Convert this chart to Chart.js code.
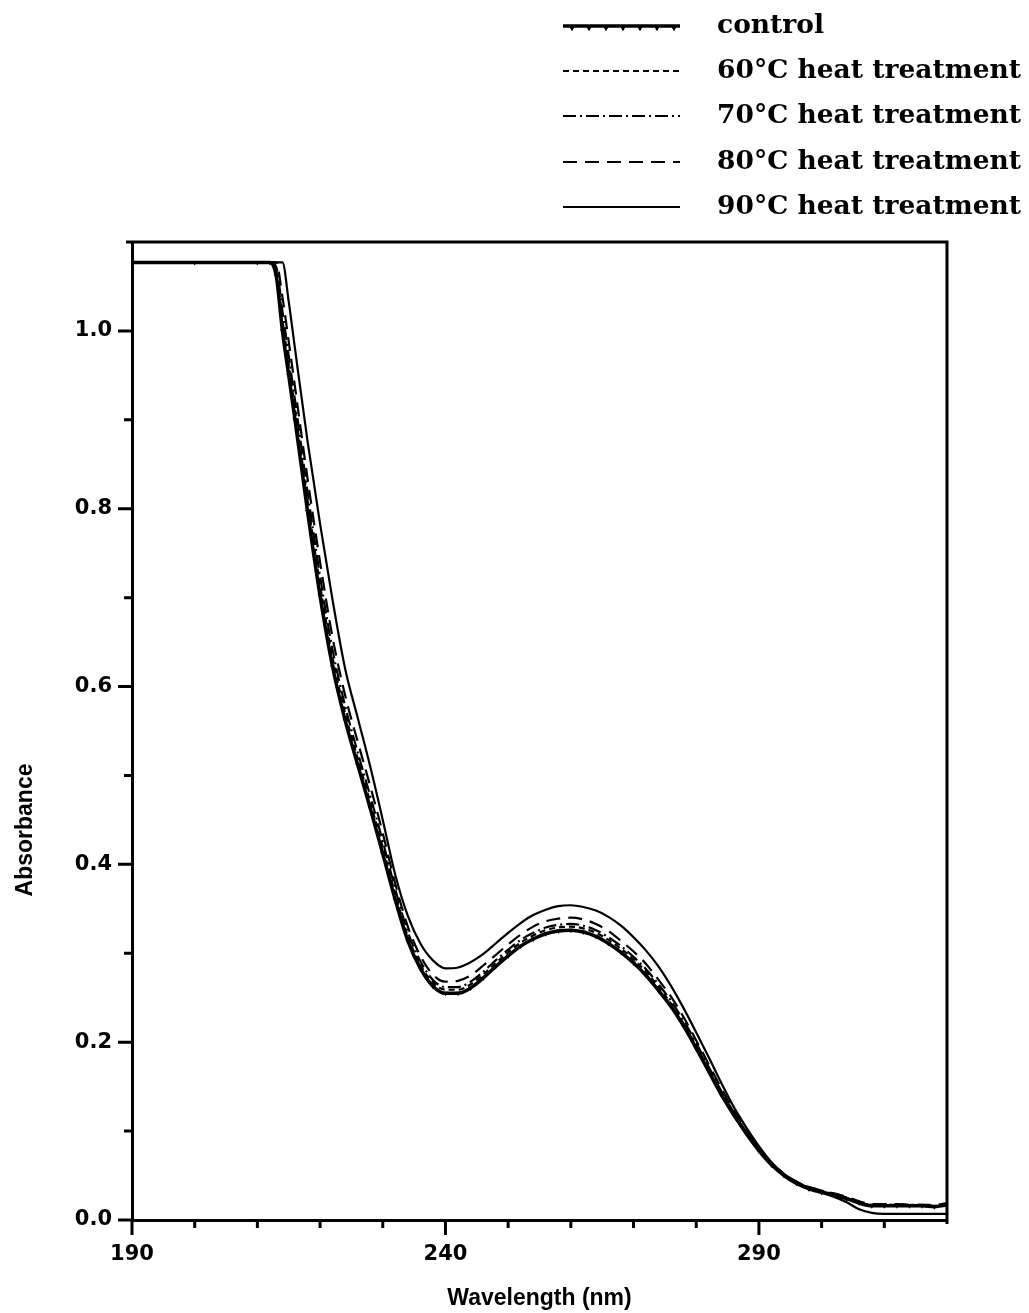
<!DOCTYPE html>
<html><head><meta charset="utf-8">
<script src="https://cdn.jsdelivr.net/npm/chart.js@4/dist/chart.umd.min.js"></script>
<style>html,body{margin:0;padding:0;background:#fff}#wrap{width:1029px;height:1313px;position:relative}canvas{display:block}</style>
</head><body><div id="wrap"><canvas id="c" width="1029" height="1313"></canvas></div>
<script>
const wavelength = [190,200,210,212,213,214,215,216,218,220,222,224,226,228,230,232,234,236,238,240,242,244,246,248,250,252,254,256,258,260,262,264,266,268,270,272,274,276,278,280,282,284,286,288,290,292,294,296,298,300,302,304,306,308,310,312,314,316,318,320];
const control = [1.077,1.077,1.077,1.077,1.062,1.000,0.950,0.900,0.797,0.702,0.622,0.562,0.512,0.463,0.412,0.360,0.314,0.283,0.263,0.255,0.255,0.261,0.272,0.285,0.297,0.308,0.316,0.322,0.325,0.326,0.324,0.319,0.311,0.301,0.289,0.275,0.258,0.240,0.218,0.193,0.167,0.141,0.118,0.097,0.078,0.062,0.050,0.041,0.035,0.031,0.028,0.024,0.019,0.016,0.016,0.016,0.016,0.016,0.015,0.017];
const heat60 = [1.077,1.077,1.077,1.077,1.068,1.012,0.962,0.912,0.809,0.714,0.632,0.570,0.519,0.470,0.419,0.366,0.319,0.287,0.267,0.259,0.259,0.265,0.276,0.289,0.301,0.312,0.320,0.326,0.329,0.330,0.328,0.323,0.315,0.305,0.293,0.279,0.262,0.243,0.221,0.196,0.170,0.143,0.120,0.098,0.079,0.063,0.051,0.042,0.036,0.032,0.029,0.025,0.019,0.017,0.017,0.017,0.017,0.016,0.016,0.018];
const heat70 = [1.077,1.077,1.077,1.077,1.072,1.022,0.972,0.922,0.819,0.724,0.641,0.578,0.526,0.477,0.426,0.372,0.324,0.291,0.270,0.262,0.262,0.268,0.279,0.292,0.304,0.315,0.323,0.329,0.332,0.333,0.331,0.326,0.318,0.308,0.296,0.282,0.265,0.246,0.224,0.199,0.172,0.145,0.121,0.099,0.080,0.064,0.051,0.043,0.037,0.033,0.029,0.025,0.020,0.017,0.017,0.017,0.017,0.017,0.016,0.018];
const heat80 = [1.077,1.077,1.077,1.077,1.077,1.038,0.988,0.937,0.834,0.740,0.655,0.590,0.538,0.488,0.435,0.378,0.330,0.297,0.276,0.268,0.269,0.275,0.286,0.298,0.310,0.321,0.330,0.336,0.339,0.340,0.338,0.333,0.325,0.314,0.302,0.288,0.270,0.251,0.228,0.202,0.175,0.148,0.123,0.101,0.081,0.064,0.052,0.043,0.037,0.033,0.030,0.026,0.021,0.018,0.018,0.018,0.017,0.017,0.017,0.019];
const heat90 = [1.077,1.077,1.077,1.077,1.077,1.077,1.033,0.980,0.876,0.783,0.697,0.620,0.565,0.510,0.450,0.388,0.342,0.311,0.292,0.283,0.284,0.290,0.299,0.311,0.323,0.334,0.343,0.349,0.353,0.354,0.352,0.348,0.341,0.331,0.318,0.303,0.285,0.263,0.238,0.211,0.183,0.154,0.127,0.104,0.083,0.065,0.052,0.043,0.036,0.031,0.026,0.020,0.012,0.008,0.007,0.007,0.007,0.007,0.007,0.007];
const seriesLabels = ['control','60°C heat treatment','70°C heat treatment','80°C heat treatment','90°C heat treatment'];
const xMajorTicks = [190,240,290];
const xMinorTicks = [200,210,220,230,250,260,270,280,300,310];
const yMajorTicks = [0,0.2,0.4,0.6,0.8,1.0];
const yMinorTicks = [0.1,0.3,0.5,0.7,0.9];
const xMin = 190, xMax = 320, yMin = 0, yMax = 1.1;
const xTitle = 'Wavelength (nm)';
const yTitle = 'Absorbance';

const seriesValues = [control, heat60, heat70, heat80, heat90];
const styles = [
  {dash: [], width: 3.5, marker: true},
  {dash: [6,4], width: 2.2},
  {dash: [13,4,2,4], width: 2.2},
  {dash: [14,8], width: 2.2},
  {dash: [], width: 2.2}
];
const datasets = seriesValues.map((vals, i) => ({
  label: seriesLabels[i],
  data: wavelength.map((w, j) => ({x: w, y: vals[j]})),
  borderColor: '#000',
  backgroundColor: '#000',
  borderWidth: styles[i].width,
  borderDash: styles[i].dash,
  pointRadius: styles[i].marker ? 3 : 0,
  pointStyle: 'triangle',
  rotation: 180,
  pointBorderWidth: 0,
  cubicInterpolationMode: 'monotone',
  fill: false
}));

const decor = {
  id: 'decor',
  afterDraw(chart) {
    const ctx = chart.ctx, a = chart.chartArea;
    const xs = chart.scales.x, ys = chart.scales.y;
    ctx.save();
    ctx.strokeStyle = '#000';
    ctx.lineWidth = 3;
    ctx.setLineDash([]);
    ctx.beginPath();
    ctx.moveTo(a.left - 6, a.top); ctx.lineTo(a.right, a.top); ctx.lineTo(a.right, a.bottom + 4);
    ctx.stroke();
    ctx.beginPath();
    yMajorTicks.forEach(v => { const p = ys.getPixelForValue(v); ctx.moveTo(a.left - 14, p); ctx.lineTo(a.left, p); });
    yMinorTicks.forEach(v => { const p = ys.getPixelForValue(v); ctx.moveTo(a.left - 8, p); ctx.lineTo(a.left, p); });
    xMajorTicks.forEach(v => { const p = xs.getPixelForValue(v); ctx.moveTo(p, a.bottom); ctx.lineTo(p, a.bottom + 15); });
    xMinorTicks.forEach(v => { const p = xs.getPixelForValue(v); ctx.moveTo(p, a.bottom); ctx.lineTo(p, a.bottom + 8); });
    ctx.stroke();
    ctx.fillStyle = '#000';
    ctx.font = 'bold 23px "Liberation Sans", Arial, sans-serif';
    ctx.textAlign = 'center'; ctx.textBaseline = 'middle';
    ctx.fillText(xTitle, (a.left + a.right) / 2, 1299);
    ctx.save();
    ctx.translate(26, 830); ctx.rotate(-Math.PI / 2);
    ctx.fillText(yTitle, 0, 0);
    ctx.restore();
    const rows = [26, 71, 116, 162, 207];
    ctx.font = 'bold 26.5px "DejaVu Serif", serif';
    ctx.textAlign = 'left';
    chart.data.datasets.forEach((ds, i) => {
      const y = rows[i];
      ctx.lineWidth = ds.borderWidth;
      ctx.setLineDash(ds.borderDash);
      ctx.beginPath(); ctx.moveTo(563, y); ctx.lineTo(680, y); ctx.stroke();
      ctx.setLineDash([]);
      if (ds.pointRadius > 0) {
        for (let x = 572; x < 680; x += 17) {
          Chart.helpers.drawPoint(ctx, {pointStyle: 'triangle', rotation: 180, radius: 3, borderWidth: 0}, x, y + 2);
          ctx.fill();
        }
      }
      ctx.fillText(ds.label, 717, y);
    });
    ctx.restore();
  }
};

new Chart(document.getElementById('c'), {
  type: 'line',
  data: {datasets},
  options: {
    responsive: false,
    animation: false,
    devicePixelRatio: 1,
    layout: {padding: {top: 242, right: 82, left: 0, bottom: 0}},
    plugins: {legend: {display: false}, tooltip: {enabled: false}},
    scales: {
      x: {
        type: 'linear', min: xMin, max: xMax,
        afterFit: s => { s.height = 93; },
        afterBuildTicks: s => { s.ticks = xMajorTicks.map(v => ({value: v})); },
        grid: {display: true, drawOnChartArea: false, drawTicks: false},
        border: {display: true, color: '#000', width: 3},
        ticks: {color: '#000', padding: 22, maxRotation: 0, autoSkip: false, font: {family: '"DejaVu Sans", sans-serif', weight: 'bold', size: 21}, callback: v => String(v)}
      },
      y: {
        type: 'linear', min: yMin, max: yMax,
        afterFit: s => { s.width = 132; },
        afterBuildTicks: s => { s.ticks = yMajorTicks.map(v => ({value: v})); },
        grid: {display: true, drawOnChartArea: false, drawTicks: false},
        border: {display: true, color: '#000', width: 3},
        ticks: {color: '#000', padding: 20, autoSkip: false, font: {family: '"DejaVu Sans", sans-serif', weight: 'bold', size: 21}, callback: v => Number(v).toFixed(1)}
      }
    }
  },
  plugins: [decor]
});
</script>
</body></html>
